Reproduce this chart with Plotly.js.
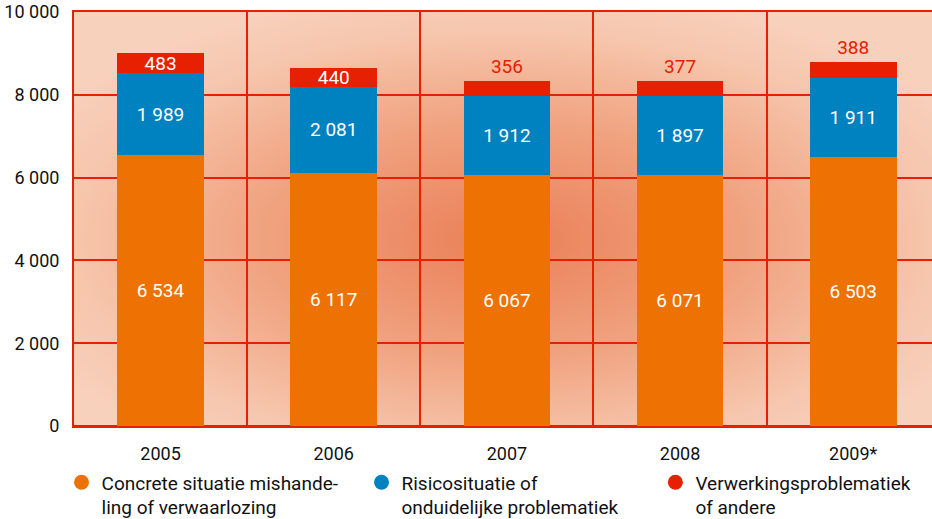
<!DOCTYPE html>
<html>
<head>
<meta charset="utf-8">
<script src="https://cdn.plot.ly/plotly-3.0.1.min.js"></script>
<style>html,body{margin:0;padding:0;background:#fff;overflow:hidden}#chart{width:932px;height:519px}</style>
</head>
<body>
<div id="chart"></div>
<script>
const years = ['2005', '2006', '2007', '2008', '2009*'];
const concrete = [6534, 6117, 6067, 6071, 6503];
const risico = [1989, 2081, 1912, 1897, 1911];
const verwerking = [483, 440, 356, 377, 388];
const seriesNames = ['Concrete situatie mishande-<br>ling of verwaarlozing', 'Risicosituatie of<br>onduidelijke problematiek', 'Verwerkingsproblematiek<br>of andere'];
const yTicks = [0, 2000, 4000, 6000, 8000, 10000];

const ORANGE = '#ee7203', BLUE = '#0082c0', RED = '#e62000';
const FONT = 'Roboto, "Liberation Sans", sans-serif';

const redPos = verwerking.map((v, i) => (i < 2 ? 'inside' : 'outside'));

const traces = [
  {type: 'bar', x: years, y: concrete, marker: {color: ORANGE}, width: 0.5, showlegend: false,
   texttemplate: '%{y:,d}', textposition: 'inside', insidetextanchor: 'middle', constraintext: 'none',
   insidetextfont: {color: '#fff', size: 19, family: FONT}, hoverinfo: 'skip'},
  {type: 'bar', x: years, y: risico, marker: {color: BLUE}, width: 0.5, showlegend: false,
   texttemplate: '%{y:,d}', textposition: 'inside', insidetextanchor: 'middle', constraintext: 'none',
   insidetextfont: {color: '#fff', size: 19, family: FONT}, hoverinfo: 'skip'},
  {type: 'bar', x: years, y: verwerking, marker: {color: RED}, width: 0.5, showlegend: false,
   texttemplate: '%{y:,d}', textposition: redPos, insidetextanchor: 'middle', constraintext: 'none',
   insidetextfont: {color: '#fff', size: 19, family: FONT},
   outsidetextfont: {color: RED, size: 19, family: FONT}, cliponaxis: false, hoverinfo: 'skip'},
  {type: 'scatter', mode: 'markers', x: [null], y: [null], name: seriesNames[0], legend: 'legend', marker: {color: ORANGE, size: 15, symbol: 'circle'}},
  {type: 'scatter', mode: 'markers', x: [null], y: [null], name: seriesNames[1], legend: 'legend', marker: {color: BLUE, size: 15, symbol: 'circle'}},
  {type: 'scatter', mode: 'markers', x: [null], y: [null], name: seriesNames[2], legend: 'legend2', marker: {color: RED, size: 15, symbol: 'circle'}}
];

const svg = '<svg xmlns="http://www.w3.org/2000/svg" width="200" height="100" preserveAspectRatio="none">' +
  '<defs><radialGradient id="g" cx="0.5" cy="0.55" r="0.62" fx="0.5" fy="0.55">' +
  '<stop offset="0" stop-color="#ea7f57"/><stop offset="0.45" stop-color="#f0a27f"/>' +
  '<stop offset="0.8" stop-color="#f6c5ac"/><stop offset="1" stop-color="#f8d1bd"/></radialGradient></defs>' +
  '<rect width="200" height="100" fill="url(#g)"/></svg>';

const legendBase = {orientation: 'h', xref: 'container', yref: 'container', yanchor: 'top', xanchor: 'left',
  valign: 'top', traceorder: 'normal', font: {size: 19, family: FONT, color: '#111'}, bgcolor: 'rgba(0,0,0,0)'};

const layout = {
  width: 932, height: 519,
  margin: {l: 74, r: 0, t: 12, b: 93},
  paper_bgcolor: '#fff', plot_bgcolor: 'rgba(0,0,0,0)',
  barmode: 'stack', separators: ', ',
  font: {family: FONT, color: '#111', size: 18},
  images: [{source: 'data:image/svg+xml;charset=utf-8,' + encodeURIComponent(svg),
    xref: 'paper', yref: 'paper', x: 0, y: 1, sizex: 1, sizey: 1,
    xanchor: 'left', yanchor: 'top', sizing: 'stretch', layer: 'below'}],
  xaxis: {type: 'category', range: [-0.5, 4.455], tickson: 'boundaries', ticks: '',
    showgrid: true, gridcolor: RED, gridwidth: 2,
    showline: true, linecolor: RED, linewidth: 2, mirror: true,
    tickfont: {size: 18, family: FONT, color: '#111'}, ticklabelstandoff: 10, fixedrange: true},
  yaxis: {range: [0, 10000], tickvals: yTicks, ticks: '', separatethousands: true, tickformat: ',d',
    showgrid: true, gridcolor: RED, gridwidth: 2,
    zeroline: true, zerolinecolor: RED, zerolinewidth: 3,
    showline: true, linecolor: RED, linewidth: 2,
    tickfont: {size: 18, family: FONT, color: '#111'}, ticklabelstandoff: 9, fixedrange: true},
  legend: Object.assign({}, legendBase, {x: 0.066, y: 0.107, entrywidth: 255, entrywidthmode: 'pixels'}),
  legend2: Object.assign({}, legendBase, {x: 0.7032, y: 0.107}),
  showlegend: true
};

Plotly.newPlot('chart', traces, layout, {displayModeBar: false, staticPlot: true});
</script>
</body>
</html>
